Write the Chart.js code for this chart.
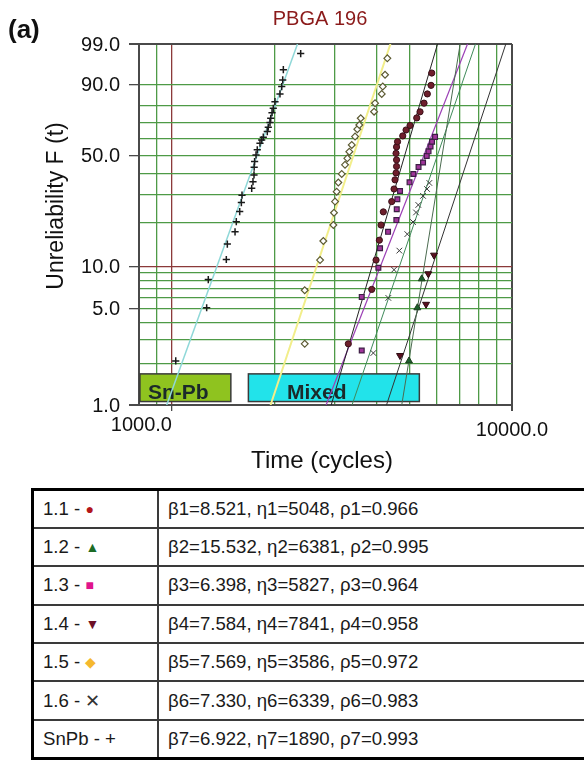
<!DOCTYPE html>
<html>
<head>
<meta charset="utf-8">
<script src="https://cdn.jsdelivr.net/npm/chart.js@4.4.0/dist/chart.umd.min.js"></script>
<style>
body { margin:0; background:#fff; width:584px; height:760px; overflow:hidden; position:relative; font-family:"Liberation Sans", Arial, sans-serif; }
#plot { position:absolute; left:0; top:0; width:584px; height:482px; }
table { position:absolute; left:31px; top:488px; width:572px; border-collapse:collapse; border:3px solid #000; font-size:18.6px; color:#1a1a1a; }
tr { height:38.4px; }
td { border:2px solid #3a3a3a; padding:0 0 0 9px; white-space:nowrap; }
td.k { width:114px; }
.s { font-size:14px; vertical-align:1px; }
</style>
</head>
<body>
<div id="plot"><canvas id="chart"></canvas></div>
<table>
  <tr><td class="k">1.1 - <span class="s" style="color:#b3161b">●</span></td><td>β1=8.521, η1=5048, ρ1=0.966</td></tr>
  <tr><td class="k">1.2 - <span class="s" style="color:#1c6b24">▲</span></td><td>β2=15.532, η2=6381, ρ2=0.995</td></tr>
  <tr><td class="k">1.3 - <span class="s" style="color:#e0148c">■</span></td><td>β3=6.398, η3=5827, ρ3=0.964</td></tr>
  <tr><td class="k">1.4 - <span class="s" style="color:#6d1027">▼</span></td><td>β4=7.584, η4=7841, ρ4=0.958</td></tr>
  <tr><td class="k">1.5 - <span class="s" style="color:#f5b82e">◆</span></td><td>β5=7.569, η5=3586, ρ5=0.972</td></tr>
  <tr><td class="k">1.6 - <span style="font-size:18px;color:#333">✕</span></td><td>β6=7.330, η6=6339, ρ6=0.983</td></tr>
  <tr><td class="k">SnPb - +</td><td>β7=6.922, η7=1890, ρ7=0.993</td></tr>
</table>
<script>
// axis grid (unreliability in %, time in cycles)
var yGrid = [1, 2, 3, 4, 5, 6, 7, 8, 9, 10, 20, 30, 40, 50, 60, 70, 80, 90, 99];
var yLabels = [1, 5, 10, 50, 90, 99];
var xGrid = [800, 900, 1000, 2000, 3000, 4000, 5000, 6000, 7000, 8000, 9000, 10000];
var xLabels = [1000, 10000];

// failure data: time (cycles) and F (%)
var t11 = [3301, 3868, 3983, 4073, 4120, 4184, 4429, 4499, 4529, 4560, 4576, 4576, 4560, 4576, 4607, 4772, 4880, 5014, 5246, 5365, 5512, 5637, 5780, 5808];
var f11 = [2.8, 6.9, 11.1, 15.2, 19.2, 23.4, 27.2, 32.5, 36.8, 40.3, 43.8, 47.5, 51.3, 55.2, 58.4, 62.0, 65.7, 68.5, 73.1, 76.7, 81.5, 86.1, 89.8, 94.0];
var t12 = [4979, 5268, 5428];
var f12 = [2.1, 5.1, 8.2];
var t13 = [3615, 3615, 4046, 4092, 4320, 4570, 4582, 4601, 4685, 4997, 5127, 5311, 5475, 5614, 5683, 5761, 5819, 5939];
var f13 = [2.5, 6.1, 9.8, 13.4, 17.3, 20.7, 24.3, 28.1, 31.6, 35.6, 39.8, 43.5, 46.0, 49.8, 52.5, 55.5, 58.4, 61.4];
var t14 = [4685, 5588, 5674, 5898];
var f14 = [2.3, 5.4, 8.9, 12.0];
var t15 = [2457, 2457, 2726, 2787, 2983, 2996, 3017, 3051, 3085, 3157, 3228, 3279, 3324, 3379, 3455, 3509, 3556, 3591, 3930, 3956, 4139, 4168, 4233, 4299];
var f15 = [2.8, 6.8, 11.1, 15.0, 19.2, 23.1, 27.2, 31.3, 35.5, 39.8, 44.7, 48.4, 52.3, 56.4, 61.6, 66.2, 68.8, 72.9, 76.8, 81.5, 86.1, 89.3, 93.5, 97.3];
var t16 = [3911, 4328, 4499, 4663, 4922, 5116, 5221, 5303, 5475, 5626, 5714];
var f16 = [2.4, 6.0, 9.5, 12.9, 16.7, 20.1, 23.2, 25.9, 29.5, 32.5, 35.3];
var tSnPb = [1026, 1265, 1279, 1445, 1455, 1533, 1546, 1582, 1600, 1607, 1716, 1731, 1743, 1745, 1750, 1767, 1782, 1815, 1836, 1856, 1907, 1920, 1942, 1952, 1969, 1986, 2009, 2078, 2103, 2117, 2126, 2391];
var fSnPb = [2.1, 5.1, 8.1, 11.2, 14.3, 17.3, 20.2, 23.5, 26.8, 29.8, 32.8, 35.9, 39.3, 43.4, 46.5, 50.4, 53.4, 57.5, 59.5, 61.2, 64.7, 67.4, 70.3, 72.9, 76.2, 78.7, 82.3, 86.1, 89.3, 91.8, 94.9, 98.0];

// fitted lines: time where each fit crosses F = 1 % and F = 99 %
var seriesNames = ['1.1', '1.2', '1.3', '1.4', '1.5', '1.6', 'SnPb'];
var fitLow = [2940, 4740, 2840, 4275, 1950, 3385, 965];
var fitHigh = [6040, 7040, 7400, 9590, 4390, 7810, 2340];

// group boxes at the bottom of the plot
var boxNames = ['Sn-Pb', 'Mixed'];
var boxFrom = [805, 1678];
var boxTo = [1490, 5340];
var boxTextAt = [850, 2180];
var boxLow = 1.06, boxHigh = 1.69;

var times = [t11, t12, t13, t14, t15, t16, tSnPb];
var fracs = [f11, f12, f13, f14, f15, f16, fSnPb];

var markStyle = [
    {pointStyle: 'circle', radius: 3.1, fill: '#6e1f2c', edge: '#3a0f18', bw: 1},
    {pointStyle: 'triangle', radius: 4, fill: '#1c5e2c', edge: '#1c3e1c', bw: 1},
    {pointStyle: 'rect', radius: 3.4, fill: '#a0359a', edge: '#3d1f45', bw: 1.2},
    {pointStyle: 'triangle', radius: 4, rotation: 180, fill: '#5a0f1f', edge: '#2a0a10', bw: 1},
    {pointStyle: 'rectRot', radius: 3.4, fill: '#ffffff', edge: '#5c5a32', bw: 1.2},
    {pointStyle: 'crossRot', radius: 4, fill: '#333', edge: '#3a3a3a', bw: 1},
    {pointStyle: 'cross', radius: 3.6, fill: '#222', edge: '#1a1a1a', bw: 1.5}
];
var fitColor = ['#222222', '#4b6b50', '#9b3fb5', '#333333', '#f2ee8a', '#3f8a5a', '#8fd8d8'];
var fitWidth = [1, 1, 1.2, 1, 2, 1, 1.5];

// Weibull probability axis
function wb(f) { return Math.log(-Math.log(1 - f / 100)); }

class WeibullScale extends Chart.Scale {
    determineDataLimits() {
        this.min = this.options.min;
        this.max = this.options.max;
    }
    buildTicks() {
        return yGrid.map(function(v) { return {value: v}; });
    }
    getLabelForValue(v) { return v.toFixed(1); }
    configure() {
        super.configure();
        this._wa = wb(this.min);
        this._wb = wb(this.max);
    }
    getPixelForValue(v) {
        return this.getPixelForDecimal((wb(v) - this._wa) / (this._wb - this._wa));
    }
    getValueForPixel(p) {
        var w = this._wa + this.getDecimalForPixel(p) * (this._wb - this._wa);
        return 100 * (1 - Math.exp(-Math.exp(w)));
    }
}
WeibullScale.id = 'weibull';
WeibullScale.defaults = {};
Chart.register(WeibullScale);

var datasets = [];
seriesNames.forEach(function(name, i) {
    var ms = markStyle[i];
    datasets.push({
        label: name,
        data: times[i].map(function(t, k) { return {x: t, y: fracs[i][k]}; }),
        showLine: false,
        pointStyle: ms.pointStyle,
        pointRadius: ms.radius,
        pointRotation: ms.rotation || 0,
        pointBackgroundColor: ms.fill,
        pointBorderColor: ms.edge,
        pointBorderWidth: ms.bw,
        order: 1
    });
    datasets.push({
        label: name + ' fit',
        data: [{x: fitLow[i], y: 1}, {x: fitHigh[i], y: 99}],
        showLine: true,
        pointRadius: 0,
        borderColor: fitColor[i],
        borderWidth: fitWidth[i],
        order: 2
    });
});

var FONT = '"Liberation Sans", Arial, sans-serif';

var decor = {
    id: 'decor',
    beforeDatasetsDraw: function(chart) {
        var ctx = chart.ctx, x = chart.scales.x, y = chart.scales.y;
        var colors = ['#8fc31f', '#22e3ea'];
        ctx.save();
        boxNames.forEach(function(name, i) {
            var x0 = x.getPixelForValue(boxFrom[i]), x1 = x.getPixelForValue(boxTo[i]);
            var y0 = y.getPixelForValue(boxHigh), y1 = y.getPixelForValue(boxLow);
            ctx.fillStyle = colors[i];
            ctx.fillRect(x0, y0, x1 - x0, y1 - y0);
            ctx.strokeStyle = '#3a3a3a';
            ctx.lineWidth = 1.5;
            ctx.strokeRect(x0, y0, x1 - x0, y1 - y0);
            ctx.fillStyle = '#1b2a2a';
            ctx.font = 'bold 21px ' + FONT;
            ctx.textAlign = 'left';
            ctx.textBaseline = 'alphabetic';
            ctx.fillText(name, x.getPixelForValue(boxTextAt[i]), y1 - 3);
        });
        ctx.restore();
    },
    afterDraw: function(chart) {
        var ctx = chart.ctx, x = chart.scales.x, y = chart.scales.y, a = chart.chartArea;
        ctx.save();
        ctx.fillStyle = '#111';
        ctx.font = 'bold 26px ' + FONT;
        ctx.textAlign = 'left';
        ctx.textBaseline = 'middle';
        ctx.fillText('(a)', 8, 31);

        ctx.fillStyle = '#8b1a1a';
        ctx.font = '20px ' + FONT;
        ctx.textAlign = 'center';
        ctx.fillText('PBGA 196', 320, 19);

        ctx.fillStyle = '#111';
        ctx.font = '20px ' + FONT;
        ctx.textAlign = 'right';
        yLabels.forEach(function(v) {
            ctx.fillText(v.toFixed(1), a.left - 19, y.getPixelForValue(v) + 1);
        });
        ctx.textAlign = 'right';
        ctx.fillText(xLabels[0].toFixed(1), x.getPixelForValue(xLabels[0]), a.bottom + 20);
        ctx.textAlign = 'center';
        ctx.fillText(xLabels[1].toFixed(1), x.getPixelForValue(xLabels[1]), a.bottom + 25);

        ctx.font = '24px ' + FONT;
        ctx.fillText('Time (cycles)', 322, 461);

        ctx.translate(57, 206);
        ctx.rotate(-Math.PI / 2);
        ctx.font = '23px ' + FONT;
        ctx.fillText('Unreliability F (t)', 0, 0);
        ctx.restore();
    }
};

function gridColor(v, edges, major) {
    if (edges.indexOf(v) >= 0) return '#4a4a4a';
    if (v === major) return '#8b3a3a';
    return '#4e9a46';
}

var config = {
    type: 'scatter',
    data: {datasets: datasets},
    options: {
        responsive: true,
        maintainAspectRatio: false,
        animation: false,
        layout: {padding: {left: 129, right: 72, top: 44, bottom: 71}},
        plugins: {legend: {display: false}, tooltip: {enabled: false}, title: {display: false}},
        scales: {
            x: {
                type: 'logarithmic',
                min: 800,
                max: 10000,
                afterBuildTicks: function(scale) {
                    scale.ticks = xGrid.map(function(v) { return {value: v}; });
                },
                ticks: {display: false},
                border: {color: '#4a4a4a', width: 2},
                grid: {
                    color: function(c) { return gridColor(c.tick.value, [800, 10000], 1000); },
                    lineWidth: function(c) { return (c.tick.value === 800 || c.tick.value === 10000) ? 2 : 1.3; },
                    tickLength: 6,
                    tickColor: function(c) { return xLabels.indexOf(c.tick.value) >= 0 ? '#4a4a4a' : 'rgba(0,0,0,0)'; }
                }
            },
            y: {
                type: 'weibull',
                min: 1,
                max: 99,
                ticks: {display: false},
                border: {color: '#4a4a4a', width: 2},
                grid: {
                    color: function(c) { return gridColor(c.tick.value, [1, 99], 10); },
                    lineWidth: function(c) { return (c.tick.value === 1 || c.tick.value === 99) ? 2 : 1.3; },
                    tickLength: 10,
                    tickColor: function(c) { return yLabels.indexOf(c.tick.value) >= 0 ? '#4a4a4a' : 'rgba(0,0,0,0)'; }
                }
            }
        }
    },
    plugins: [decor]
};

var chart = new Chart(document.getElementById('chart'), config);
</script>
</body>
</html>
